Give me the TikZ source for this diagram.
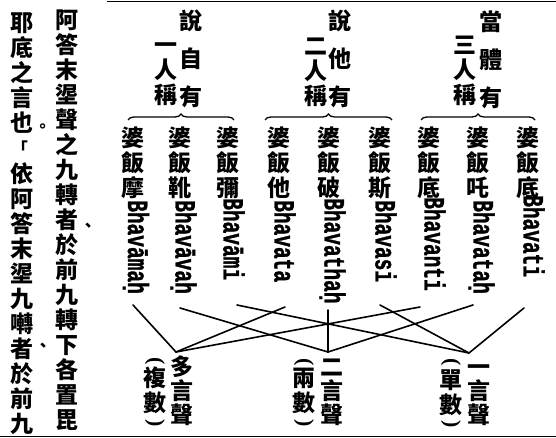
\documentclass[tikz,border=0pt]{standalone}
\usepackage{fontspec}
\usetikzlibrary{decorations.pathreplacing}
\newfontfamily\cjk{Noto Sans CJK TC}
\newfontfamily\romf{Liberation Mono}[BoldFeatures={FakeBold=1.5}]
\newfontfamily\parf{Liberation Serif}
\newcommand\cjkcol{\cjk\bfseries\fontsize{23}{25}\selectfont\lineskiplimit=-100pt\lineskip=0pt\relax}
\newcommand\fs{\rule{0pt}{18.7pt}}
\tikzset{
  vcol/.style={anchor=north, align=center, inner sep=0pt, font=\cjkcol},
  pn/.style={anchor=center, inner sep=0pt, font=\cjk\bfseries\fontsize{16}{16}\selectfont},
  vpar/.style={anchor=center, inner sep=0pt, rotate=-90, font=\parf\bfseries\fontsize{22}{22}\selectfont},
  roman/.style={rotate=-90, yscale=1.5, anchor=base west, inner sep=0pt, font=\romf\bfseries\fontsize{19.5}{20}\selectfont},
  conn/.style={line width=1.6pt, line cap=round},
  brc/.style={decorate, decoration={brace, amplitude=6pt}, line width=1.3pt},
  frame/.style={line width=1.6pt}
}
\begin{document}
\begin{tikzpicture}[x=1pt,y=1pt]
\useasboundingbox (0,0) rectangle (556,-438);
\fill[white] (0,0) rectangle (556,-438);
% rules
\draw[frame] (107,-1.5) -- (556,-1.5);
\draw[frame] (0,-436.5) -- (556,-436.5);
% running text
\node[vcol] (colA) at (67,-10) {\fs 阿\\答\\末\\埿\\聲\\之\\九\\轉\\者\\於\\前\\九\\轉\\下\\各\\置\\毘};
\node[vcol] (colB1) at (22,-12) {\fs 耶\\底\\之\\言\\也};
\node[vcol] (colB2) at (22,-162) {\fs 依\\阿\\答\\末\\埿\\九\\囀\\者\\於\\前\\九};
\node[pn] (pA) at (88,-227) {、};
\node[pn] (pB1) at (42.5,-128) {。};
\node[pn] (pB3) at (20,-148) {「};
\node[pn] (pB2) at (43,-347) {、};
% headers
\node[vcol, font={\cjkcol\baselineskip=38pt\relax}] (hd1) at (191,-10) {\fs 說\\自\\有};
\node[vcol] (hp1) at (166,-35) {\fs 一\\人\\稱};
\node[vcol, font={\cjkcol\baselineskip=38pt\relax}] (hd2) at (340,-10) {\fs 說\\他\\有};
\node[vcol] (hp2) at (316,-36) {\fs 二\\人\\稱};
\node[vcol, font={\cjkcol\baselineskip=38pt\relax}] (hd3) at (491,-11) {\fs 當\\體\\有};
\node[vcol] (hp3) at (465,-35) {\fs 三\\人\\稱};
% braces
\coordinate (bl1) at (128,-120); \coordinate (br1) at (234,-120);
\coordinate (bl2) at (265,-120); \coordinate (br2) at (392,-120);
\coordinate (bl3) at (421,-120); \coordinate (br3) at (535,-120);
\draw[brc] (bl1) -- (br1);
\draw[brc] (bl2) -- (br2);
\draw[brc] (bl3) -- (br3);
% entries
\foreach \i/\x/\c/\r/\ry in {1/528/底/Bhavati/195, 2/478/吒/Bhavataḥ/200, 3/429/底/Bhavanti/197,
  4/380/斯/Bhavasi/200, 5/329/破/Bhavathaḥ/198, 6/279/他/Bhavata/200,
  7/228/彌/Bhavāmi/198, 8/180/靴/Bhavāvaḥ/200, 9/132.5/摩/Bhavāmaḥ/200}{
  \node[vcol] (e\i) at (\x,-127) {\fs 婆\\飯\\\c};
  \node[roman] (r\i) at (\x-4.5,-\ry) {\r};
}
% bottom labels
\node[vcol, font={\cjkcol\baselineskip=24pt\relax}] (pl) at (182,-356) {\fs 多\\言\\聲};
\node[vcol, font={\cjkcol\baselineskip=24pt\relax}] (du) at (332,-357) {\fs 二\\言\\聲};
\node[vcol, font={\cjkcol\baselineskip=24pt\relax}] (sg) at (479,-357) {\fs 一\\言\\聲};
\node[vcol] (plp) at (155,-367) {\fs 複\\數};
\node[vpar] (plo) at (155,-361) {(};
\node[vpar] (plc) at (155,-423) {)};
\node[vcol] (dup) at (304,-368) {\fs 兩\\數};
\node[vpar] (duo) at (304,-362) {(};
\node[vpar] (duc) at (304,-423) {)};
\node[vcol] (sgp) at (451,-370) {\fs 單\\數};
\node[vpar] (sgo) at (451,-362) {(};
\node[vpar] (sgc) at (451,-424) {)};
% connector ends
\coordinate (b1) at (524,-308);
\coordinate (b2) at (473,-305);
\coordinate (b3) at (420,-307);
\coordinate (b4) at (380,-305);
\coordinate (b5) at (328,-310);
\coordinate (b6) at (285,-307);
\coordinate (b7) at (237,-305);
\coordinate (b8) at (180,-308);
\coordinate (b9) at (133,-305);
\coordinate (apl) at (176,-352);
\coordinate (adu) at (328,-352);
\coordinate (asg) at (469,-353);
\draw[conn] (b9) -- (apl);
\draw[conn] (b6) -- (apl);
\draw[conn] (b3) -- (apl);
\draw[conn] (b8) -- (adu);
\draw[conn] (b5) -- (adu);
\draw[conn] (b2) -- (adu);
\draw[conn] (b7) -- (asg);
\draw[conn] (b4) -- (asg);
\draw[conn] (b1) -- (asg);
\end{tikzpicture}
\end{document}
